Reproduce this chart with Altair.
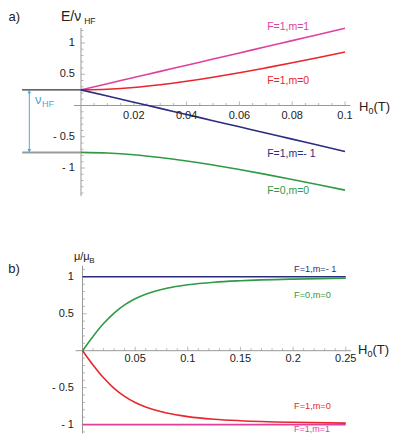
import altair as alt
import pandas as pd

FONT = "Liberation Sans"

# ---------------- data (panel a: energy levels) ----------------
a_field = [0.0, 0.01, 0.02, 0.03, 0.04, 0.05, 0.06, 0.07, 0.08, 0.09, 0.10]
a_f1m1 = [0.25, 0.349, 0.447, 0.546, 0.644, 0.743, 0.841, 0.940, 1.038, 1.137, 1.235]
a_f1m0 = [0.25, 0.26, 0.287, 0.331, 0.387, 0.452, 0.524, 0.602, 0.683, 0.768, 0.855]
a_f1mm1 = [0.25, 0.152, 0.053, -0.046, -0.144, -0.243, -0.341, -0.440, -0.538, -0.637, -0.735]
a_f0m0 = [-0.75, -0.76, -0.787, -0.831, -0.887, -0.952, -1.024, -1.102, -1.183, -1.268, -1.355]

# ---------------- data (panel b: magnetic moments) ----------------
b_field = [0.0, 0.005, 0.01, 0.02, 0.03, 0.04, 0.05, 0.06, 0.08, 0.10, 0.125, 0.15, 0.20, 0.25]
b_f0m0 = [0.0, 0.098, 0.193, 0.367, 0.509, 0.619, 0.702, 0.763, 0.844, 0.892, 0.927, 0.947, 0.969, 0.980]
b_f1m0 = [0.0, -0.098, -0.193, -0.367, -0.509, -0.619, -0.702, -0.763, -0.844, -0.892, -0.927, -0.947, -0.969, -0.980]
b_flat_field = [0.0, 0.25]
b_f1mm1 = [1.0, 1.0]
b_f1m1 = [-1.0, -1.0]

series = ["F=1,m=1", "F=1,m=0", "F=1,m=- 1", "F=0,m=0"]
colors = ["#e0409c", "#e8262c", "#2b2b80", "#2f9a45"]
CYAN = "#45acd8"
AXIS = "#999999"
INK = "#222222"

a_xticks = [0.02, 0.04, 0.06, 0.08, 0.1]
a_xlabels = ["0.02", "0.04", "0.06", "0.08", "0.1"]
a_yticks = [1, 0.5, -0.5, -1]
a_ylabels = ["1", "0.5", "- 0.5", "- 1"]
b_xticks = [0.05, 0.1, 0.15, 0.2, 0.25]
b_xlabels = ["0.05", "0.1", "0.15", "0.2", "0.25"]
b_yticks = [1, 0.5, -0.5, -1]
b_ylabels = ["1", "0.5", "- 0.5", "- 1"]

# ---------------- geometry ----------------
W = 383
H_A, H_B = 214, 212
A_XD, A_YD = [-0.02765, 0.11742], [-1.864, 1.56]
B_XD, B_YD = [-0.07075, 0.29297], [-1.1272, 1.7415]


def enc(xd, yd):
    return dict(
        x=alt.X("x:Q", scale=alt.Scale(domain=xd, nice=False, zero=False), axis=None),
        y=alt.Y("y:Q", scale=alt.Scale(domain=yd, nice=False, zero=False), axis=None),
    )


def lines(df, xd, yd, width=1.6):
    return alt.Chart(df).mark_line(strokeWidth=width, interpolate="monotone").encode(
        **enc(xd, yd),
        color=alt.Color("s:N", scale=alt.Scale(domain=series, range=colors), legend=None),
        detail="s:N",
    )


def rules(df, xd, yd, color, width=1.0):
    return alt.Chart(df).mark_rule(color=color, strokeWidth=width).encode(
        **enc(xd, yd), x2="x2:Q", y2="y2:Q"
    )


def ticks(vals, xd, yd, orient, size):
    if orient == "vertical":
        df = pd.DataFrame({"x": vals, "y": [0.0] * len(vals)})
        mk = alt.Chart(df).mark_tick(orient="vertical", size=size, thickness=1,
                                     color=AXIS, yOffset=-size / 2)
    else:
        df = pd.DataFrame({"x": [0.0] * len(vals), "y": vals})
        mk = alt.Chart(df).mark_tick(orient="horizontal", size=size, thickness=1,
                                     color=AXIS, xOffset=size / 2)
    return mk.encode(**enc(xd, yd))


def texts(rows, xd, yd, align):
    df = pd.DataFrame(rows, columns=["x", "y", "t", "c", "fs"])
    return alt.Chart(df).mark_text(align=align, baseline="middle", font=FONT).encode(
        **enc(xd, yd),
        text="t:N",
        color=alt.Color("c:N", scale=None),
        size=alt.Size("fs:Q", scale=None),
    )


def long(xs, cols):
    rows = []
    for name, ys in cols:
        for x, y in zip(xs, ys):
            rows.append({"x": x, "y": y, "s": name})
    return pd.DataFrame(rows)


# ================= panel a =================
a_df = long(a_field, [(series[0], a_f1m1), (series[1], a_f1m0),
                      (series[2], a_f1mm1), (series[3], a_f0m0)])

a_minor_x = [round(0.005 * i, 3) for i in range(1, 21) if i % 4 != 0]
a_minor_y = [round(0.1 * i, 1) for i in range(-14, 13) if i % 5 != 0]

a_axes = pd.DataFrame({"x": [-0.00265, 0.0], "x2": [0.102, 0.0],
                       "y": [0.0, -1.45], "y2": [0.0, 1.24]})
a_level_hi = pd.DataFrame({"x": [-0.0223], "x2": [0.0], "y": [0.25], "y2": [0.25]})
a_level_lo = pd.DataFrame({"x": [-0.0223], "x2": [0.0], "y": [-0.75], "y2": [-0.75]})
a_arrow = pd.DataFrame({"x": [-0.01958], "x2": [-0.01958], "y": [0.25], "y2": [-0.75]})
a_head_up = pd.DataFrame({"x": [-0.01958], "y": [0.222]})
a_head_dn = pd.DataFrame({"x": [-0.01958], "y": [-0.722]})

a_center = [(x, -0.16, t, INK, 11) for x, t in zip(a_xticks, a_xlabels)]
a_right = [(-0.0023, y, t, INK, 11) for y, t in zip(a_yticks, a_ylabels)]
a_left = [
    (0.0705, 1.256, series[0], colors[0], 10.5),
    (0.0705, 0.397, series[1], colors[1], 10.5),
    (0.0705, -0.776, series[2], colors[2], 10.5),
    (0.0705, -1.368, series[3], colors[3], 10.5),
    (-0.0076, 1.42, "E/ν", INK, 14),
    (0.0012, 1.352, "HF", INK, 8.5),
    (-0.0275, 1.42, "a)", INK, 13),
    (0.1053, -0.024, "H", INK, 13),
    (0.1089, -0.088, "0", INK, 9),
    (0.1108, -0.024, "(T)", INK, 13),
    (-0.01742, 0.088, "ν", CYAN, 13),
    (-0.01477, 0.024, "HF", CYAN, 9),
]

panel_a = alt.layer(
    rules(a_axes, A_XD, A_YD, AXIS),
    ticks(a_xticks, A_XD, A_YD, "vertical", 4),
    ticks(a_minor_x, A_XD, A_YD, "vertical", 2.5),
    ticks(a_yticks, A_XD, A_YD, "horizontal", 4),
    ticks(a_minor_y, A_XD, A_YD, "horizontal", 2.5),
    rules(a_level_hi, A_XD, A_YD, "#333333", 1.2),
    rules(a_level_lo, A_XD, A_YD, "#9a9a9a", 2.0),
    rules(a_arrow, A_XD, A_YD, CYAN, 1.0),
    alt.Chart(a_head_up).mark_point(shape="triangle-up", filled=True, size=14,
                                    color=CYAN, opacity=1).encode(**enc(A_XD, A_YD)),
    alt.Chart(a_head_dn).mark_point(shape="triangle-down", filled=True, size=14,
                                    color=CYAN, opacity=1).encode(**enc(A_XD, A_YD)),
    lines(a_df, A_XD, A_YD),
    texts(a_center, A_XD, A_YD, "center"),
    texts(a_right, A_XD, A_YD, "right"),
    texts(a_left, A_XD, A_YD, "left"),
).properties(width=W, height=H_A)

# ================= panel b =================
b_df = pd.concat([
    long(b_flat_field, [(series[2], b_f1mm1), (series[0], b_f1m1)]),
    long(b_field, [(series[3], b_f0m0), (series[1], b_f1m0)]),
])

b_minor_x = [round(0.01 * i, 2) for i in range(1, 26) if i % 5 != 0]
b_minor_y = [round(0.1 * i, 1) for i in range(-11, 12) if i % 5 != 0]

b_axes = pd.DataFrame({"x": [-0.0066, 0.0], "x2": [0.255, 0.0],
                       "y": [0.0, -1.12], "y2": [0.0, 1.15]})

b_center = [(x, -0.112, t, INK, 11) for x, t in zip(b_xticks, b_xlabels)]
b_right = [(-0.0081, y, t, INK, 11) for y, t in zip(b_yticks, b_ylabels)]
b_left = [
    (0.2009, 1.106, series[2], colors[2], 9.2),
    (0.2009, 0.754, series[3], colors[3], 9.2),
    (0.2009, -0.744, series[1], colors[1], 9.2),
    (0.2009, -1.066, series[0], colors[0], 9.0),
    (-0.0081, 1.268, "μ/μ", INK, 11),
    (0.0065, 1.214, "B", INK, 8),
    (-0.0705, 1.106, "b)", INK, 13),
    (0.2616, 0.01, "H", INK, 13),
    (0.2706, -0.05, "0", INK, 9),
    (0.2754, 0.01, "(T)", INK, 13),
]

panel_b = alt.layer(
    rules(b_axes, B_XD, B_YD, AXIS),
    ticks(b_xticks, B_XD, B_YD, "vertical", 4),
    ticks(b_minor_x, B_XD, B_YD, "vertical", 2.5),
    ticks(b_yticks, B_XD, B_YD, "horizontal", 4),
    ticks(b_minor_y, B_XD, B_YD, "horizontal", 2.5),
    lines(b_df, B_XD, B_YD),
    texts(b_center, B_XD, B_YD, "center"),
    texts(b_right, B_XD, B_YD, "right"),
    texts(b_left, B_XD, B_YD, "left"),
).properties(width=W, height=H_B)

chart = alt.vconcat(panel_a, panel_b, spacing=0).properties(
    padding=0, background="white"
).configure_view(stroke=None)

chart.save("out.html", embed_options={"renderer": "svg", "actions": False})
